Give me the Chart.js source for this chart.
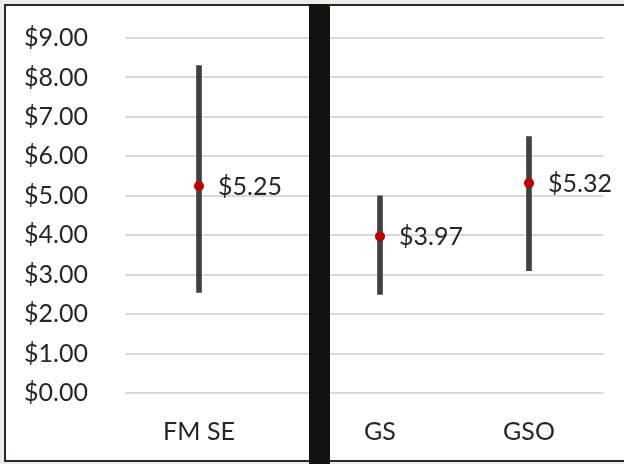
<!DOCTYPE html>
<html>

<head>
  <meta charset="UTF-8" />
  <title>Price ranges</title>
  <script src="https://cdn.jsdelivr.net/npm/chart.js"></script>
  <style>
    html, body { margin: 0; padding: 0; }
    body { width: 624px; height: 464px; background: #efebe7; position: relative; overflow: hidden; }
    .frame { position: absolute; left: 4px; top: 4px; width: 700px; height: 454px; border: 2px solid #2a2a2a; background: #fff; }
    .panel { position: absolute; overflow: hidden; top: 6px; height: 454px; }
    #leftPanel { left: 6px; width: 303px; }
    #rightPanel { left: 330px; width: 294px; }
    .panel canvas { position: absolute; top: 0; }
    #leftPanel canvas { left: 0; }
    #rightPanel canvas { left: -30px; }
    .divider { position: absolute; left: 309px; top: 4px; width: 21px; height: 460px; background: #121212; }
  </style>
</head>

<body>
  <div class="frame"></div>
  <div class="panel" id="leftPanel"><canvas id="leftChart" width="420" height="454"></canvas></div>
  <div class="panel" id="rightPanel"><canvas id="rightChart" width="324" height="454"></canvas></div>
  <div class="divider"></div>
  <script>
    const categories = ["FM SE", "GS", "GSO"];
    const means = [5.25, 3.97, 5.32];
    const lows = [2.55, 2.5, 3.1];
    const highs = [8.3, 5.0, 6.5];
    const yTicks = [0, 1, 2, 3, 4, 5, 6, 7, 8, 9];

    const FONT = "Lato, 'Open Sans', sans-serif";
    const money = v => "$" + Number(v).toFixed(2);

    // value labels to the right of each red dot
    const pointLabels = {
      id: "pointLabels",
      afterDatasetsDraw(chart) {
        const ctx = chart.ctx;
        const meta = chart.getDatasetMeta(1);
        ctx.save();
        ctx.font = "25px " + FONT;
        ctx.fillStyle = "#262626";
        ctx.textAlign = "left";
        ctx.textBaseline = "middle";
        meta.data.forEach((pt, i) => {
          const v = chart.data.datasets[1].data[i];
          if (v == null) return;
          ctx.fillText(money(v), pt.x + 19, pt.y + 1);
        });
        ctx.restore();
      }
    };

    function makeChart(id, idx, showY, pad) {
      const labels = idx.map(i => i == null ? "" : categories[i]);
      return new Chart(document.getElementById(id), {
        data: {
          labels: labels,
          datasets: [
            {
              type: "bar",
              data: idx.map(i => i == null ? null : [lows[i], highs[i]]),
              backgroundColor: "#404040",
              barThickness: 5,
              order: 2
            },
            {
              type: "line",
              data: idx.map(i => i == null ? null : means[i]),
              showLine: false,
              pointRadius: 5,
              pointHoverRadius: 5,
              pointBackgroundColor: "#c00000",
              pointBorderWidth: 0,
              order: 1
            }
          ]
        },
        options: {
          responsive: false,
          animation: false,
          layout: { padding: pad },
          plugins: { legend: { display: false }, tooltip: { enabled: false } },
          scales: {
            x: {
              grid: { display: false, drawTicks: false },
              border: { display: false },
              afterFit: s => { s.height = 67; s.paddingLeft = 0; s.paddingRight = 0; },
              ticks: { padding: 24, color: "#262626", font: { family: FONT, size: 25 } }
            },
            y: {
              min: yTicks[0],
              max: yTicks[yTicks.length - 1],
              afterBuildTicks: s => { s.ticks = yTicks.map(v => ({ value: v })); },
              afterFit: s => {
                s.width = showY ? 119 : 0;
                s.paddingTop = 0;
                s.paddingBottom = 0;
              },
              grid: { color: "#d9d9d9", lineWidth: 2, drawTicks: false },
              border: { display: false },
              ticks: {
                display: showY,
                padding: 37,
                color: "#262626",
                font: { family: FONT, size: 25 },
                callback: v => money(v)
              }
            }
          }
        },
        plugins: [pointLabels]
      });
    }

    makeChart("leftChart", [0, null], true, { top: 32, bottom: 0, left: 0, right: 5 });
    makeChart("rightChart", [1, 2], false, { top: 32, bottom: 0, left: 5.5, right: 20.5 });
  </script>
</body>

</html>
